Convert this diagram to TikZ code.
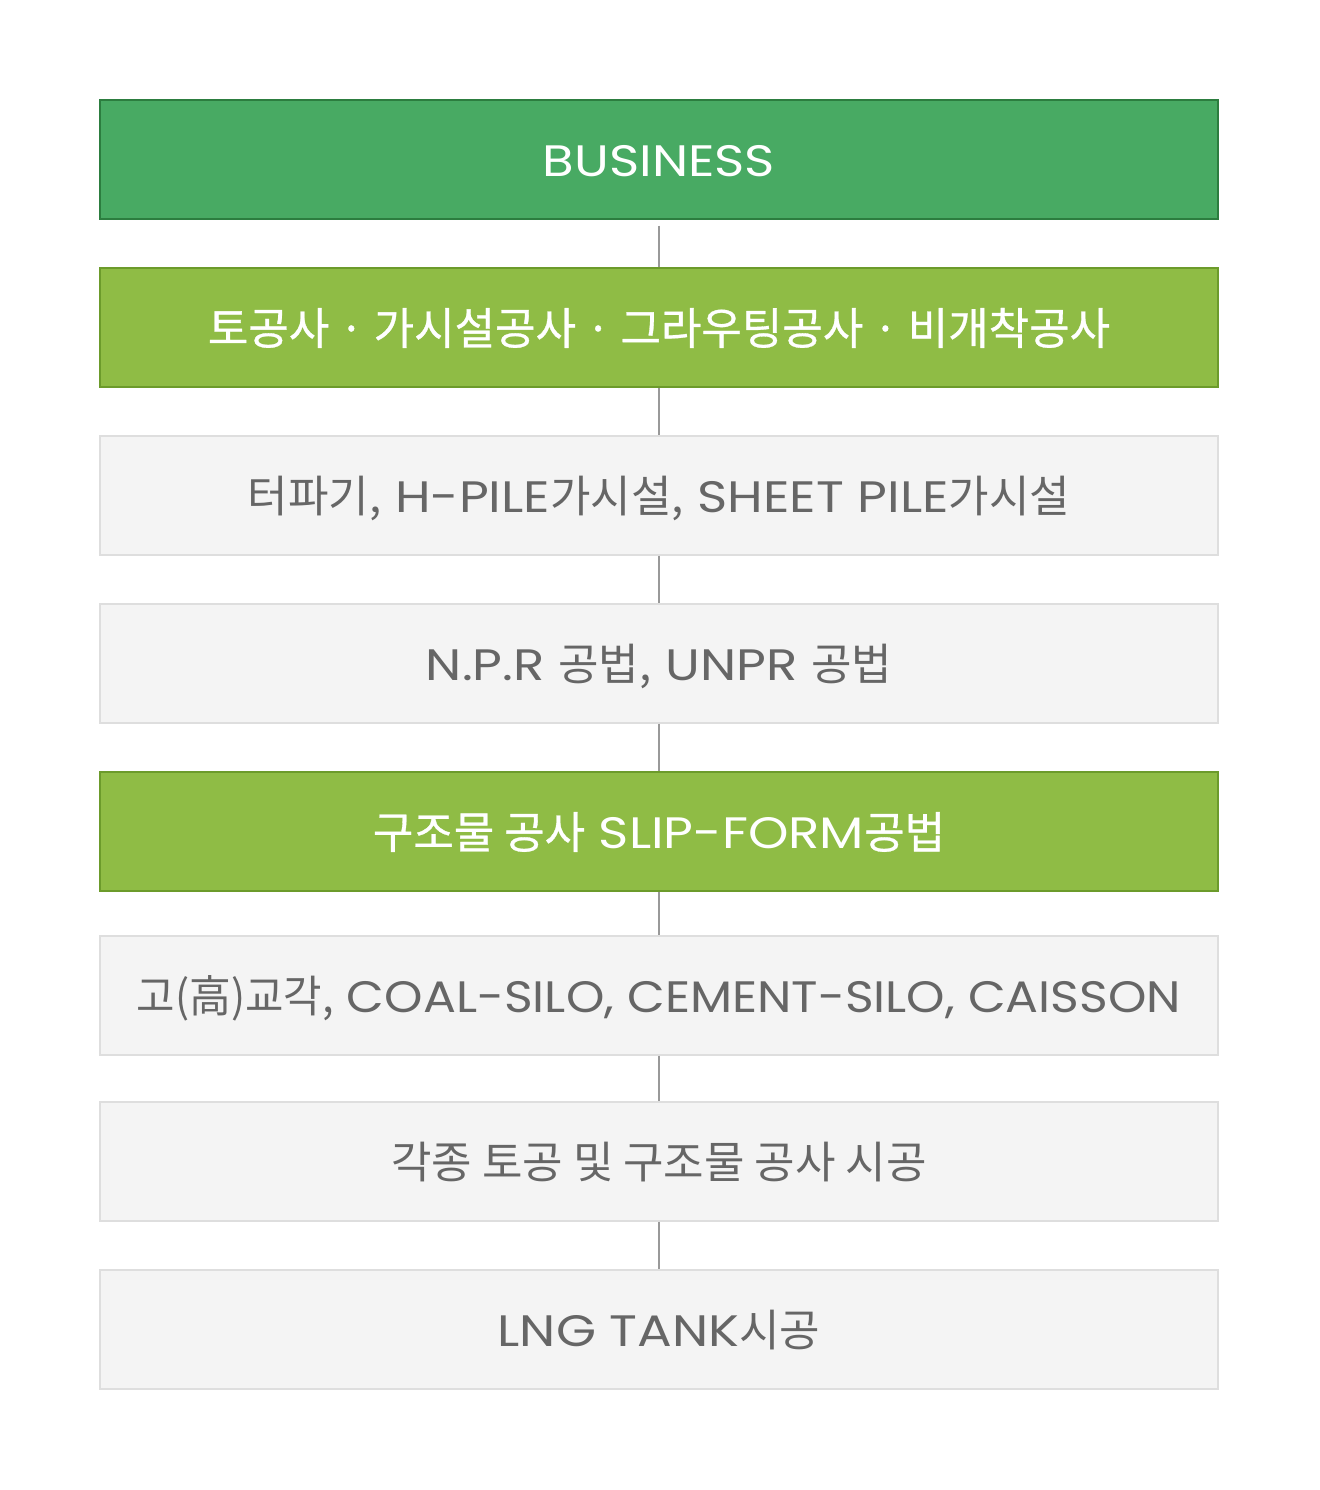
\documentclass[tikz,border=0pt]{standalone}
\usepackage{fontspec}
\setmainfont{Poppins}[FakeStretch=1.17]
\newfontfamily\kr{Noto Sans CJK KR}
\newfontfamily\krm{Noto Sans CJK KR}[FakeBold=0.7]
\let\krsel\kr
\newcommand\K[1]{{\krsel #1}}
\definecolor{gdark}{HTML}{48AA63}
\definecolor{gdarkb}{HTML}{2C7D3F}
\definecolor{glight}{HTML}{8FBC45}
\definecolor{glightb}{HTML}{6C9B2B}
\definecolor{gfill}{HTML}{F4F4F4}
\definecolor{gborder}{HTML}{DEDEDE}
\definecolor{gtext}{HTML}{666666}
\definecolor{gline}{HTML}{999999}
\begin{document}
\begin{tikzpicture}[x=1pt,y=-1pt,
  box/.style={minimum width=1118pt,minimum height=119pt,inner sep=0pt,line width=1.3pt,
    text height=34pt,text depth=0pt,font=\fontsize{44}{50}\selectfont},
  topbox/.style={box,fill=gdark,draw=gdarkb,text=white},
  mainbox/.style={box,fill=glight,draw=glightb,text=white,font=\fontsize{44}{50}\selectfont\let\krsel\krm},
  subbox/.style={box,fill=gfill,draw=gborder,text=gtext},
  conn/.style={draw=gline,line width=2.2pt}]
\useasboundingbox (0,0) rectangle (1319,1490);
\node[topbox] (b1) at (659,159.5) {BUSINESS};
\node[mainbox] (b2) at (659,327.5) {\K{토공사 · 가시설공사 · 그라우팅공사 · 비개착공사}};
\node[subbox] (b3) at (659,495.5) {\K{터파기,} H-PILE\K{가시설,} SHEET PILE\K{가시설}};
\node[subbox] (b4) at (659,663.5) {N.P.R \K{공법,} UNPR \K{공법}};
\node[mainbox] (b5) at (659,831.5) {\K{구조물 공사} SLIP-FORM\K{공법}};
\node[subbox] (b6) at (659,995.5) {\scalebox{0.95}[1]{\K{고(高)교각,} COAL-SILO, CEMENT-SILO, CAISSON}};
\node[subbox] (b7) at (659,1161.5) {\K{각종 토공 및 구조물 공사 시공}};
\node[subbox] (b8) at (659,1329.5) {LNG TANK\K{시공}};
\coordinate (c1) at ([yshift=-6pt]b1.south);
\draw[conn] (c1) -- (b2.north);
\draw[conn] (b2.south) -- (b3.north);
\draw[conn] (b3.south) -- (b4.north);
\draw[conn] (b4.south) -- (b5.north);
\draw[conn] (b5.south) -- (b6.north);
\draw[conn] (b6.south) -- (b7.north);
\draw[conn] (b7.south) -- (b8.north);
\end{tikzpicture}
\end{document}
